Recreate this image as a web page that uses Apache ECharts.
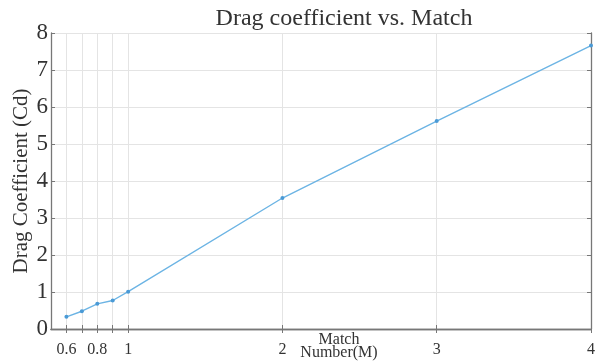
<!DOCTYPE html>
<html><head><meta charset="utf-8">
<script src="https://cdn.jsdelivr.net/npm/echarts@6/dist/echarts.min.js"></script>
<style>html,body{margin:0;padding:0;background:#fff}#c{width:598px;height:363px}</style>
</head><body><div id="c"></div>
<script>
var machNumbers = [0.6, 0.7, 0.8, 0.9, 1, 2, 3, 4];
var dragCoeff = [0.33, 0.48, 0.68, 0.77, 1.01, 3.54, 5.62, 7.66];
var xTickValues = [0.6, 0.7, 0.8, 0.9, 1, 2, 3, 4];
var xLabelValues = [0.6, 0.8, 1, 2, 3, 4];
var font = '"Liberation Serif", "DejaVu Serif", serif';
var chart = echarts.init(document.getElementById('c'));
chart.setOption({
  animation: false,
  title: {text: 'Drag coefficient vs. Match', left: 339, textAlign: 'center', top: 2,
    textStyle: {fontFamily: font, fontWeight: 'normal', fontSize: 24, color: '#333'}},
  grid: {left: 51, right: 7, top: 33, bottom: 34, containLabel: false, outerBoundsMode: 'none'},
  xAxis: [{
    type: 'value', min: 0.5, max: 4, position: 'bottom',
    axisLine: {show: true, lineStyle: {color: '#777', width: 1.3}},
    axisTick: {show: true, inside: true, length: 4, customValues: xTickValues, lineStyle: {color: '#777'}},
    axisLabel: {customValues: xLabelValues, fontFamily: font, fontSize: 16, color: '#333', margin: 13},
    splitLine: {show: true, lineStyle: {color: '#e4e4e4'}},
    name: 'Match\nNumber(M)', nameLocation: 'middle', nameGap: 4, nameMoveOverlap: false,
    nameTextStyle: {fontFamily: font, fontSize: 16, color: '#333', lineHeight: 13, padding: [0, 0, 0, 36]}
  }, {
    type: 'value', min: 0.5, max: 4, position: 'top',
    axisLine: {show: true, lineStyle: {color: '#777', width: 1.3}},
    axisTick: {show: true, inside: true, length: 4, customValues: xTickValues, lineStyle: {color: '#777'}},
    axisLabel: {show: false}, splitLine: {show: false}
  }],
  yAxis: [{
    type: 'value', min: 0, max: 8, interval: 1, position: 'left',
    axisLine: {show: true, lineStyle: {color: '#777', width: 1.3}},
    axisTick: {show: true, inside: true, length: 4, lineStyle: {color: '#777'}},
    axisLabel: {fontFamily: font, fontSize: 23, color: '#333', margin: 3},
    splitLine: {show: true, lineStyle: {color: '#e4e4e4'}},
    name: 'Drag Coefficient (Cd)', nameLocation: 'middle', nameGap: 19, nameMoveOverlap: false,
    nameTextStyle: {fontFamily: font, fontSize: 21, color: '#333'}
  }, {
    type: 'value', min: 0, max: 8, interval: 1, position: 'right',
    axisLine: {show: true, lineStyle: {color: '#777', width: 1.3}},
    axisTick: {show: true, inside: true, length: 4, lineStyle: {color: '#777'}},
    axisLabel: {show: false}, splitLine: {show: false}
  }],
  series: [{
    type: 'line',
    data: machNumbers.map(function (m, i) { return [m, dragCoeff[i]]; }),
    symbol: 'circle', symbolSize: 4, showSymbol: true,
    lineStyle: {color: '#6cb4e4', width: 1.4},
    itemStyle: {color: '#4a9ad6'}
  }]
});
</script></body></html>
